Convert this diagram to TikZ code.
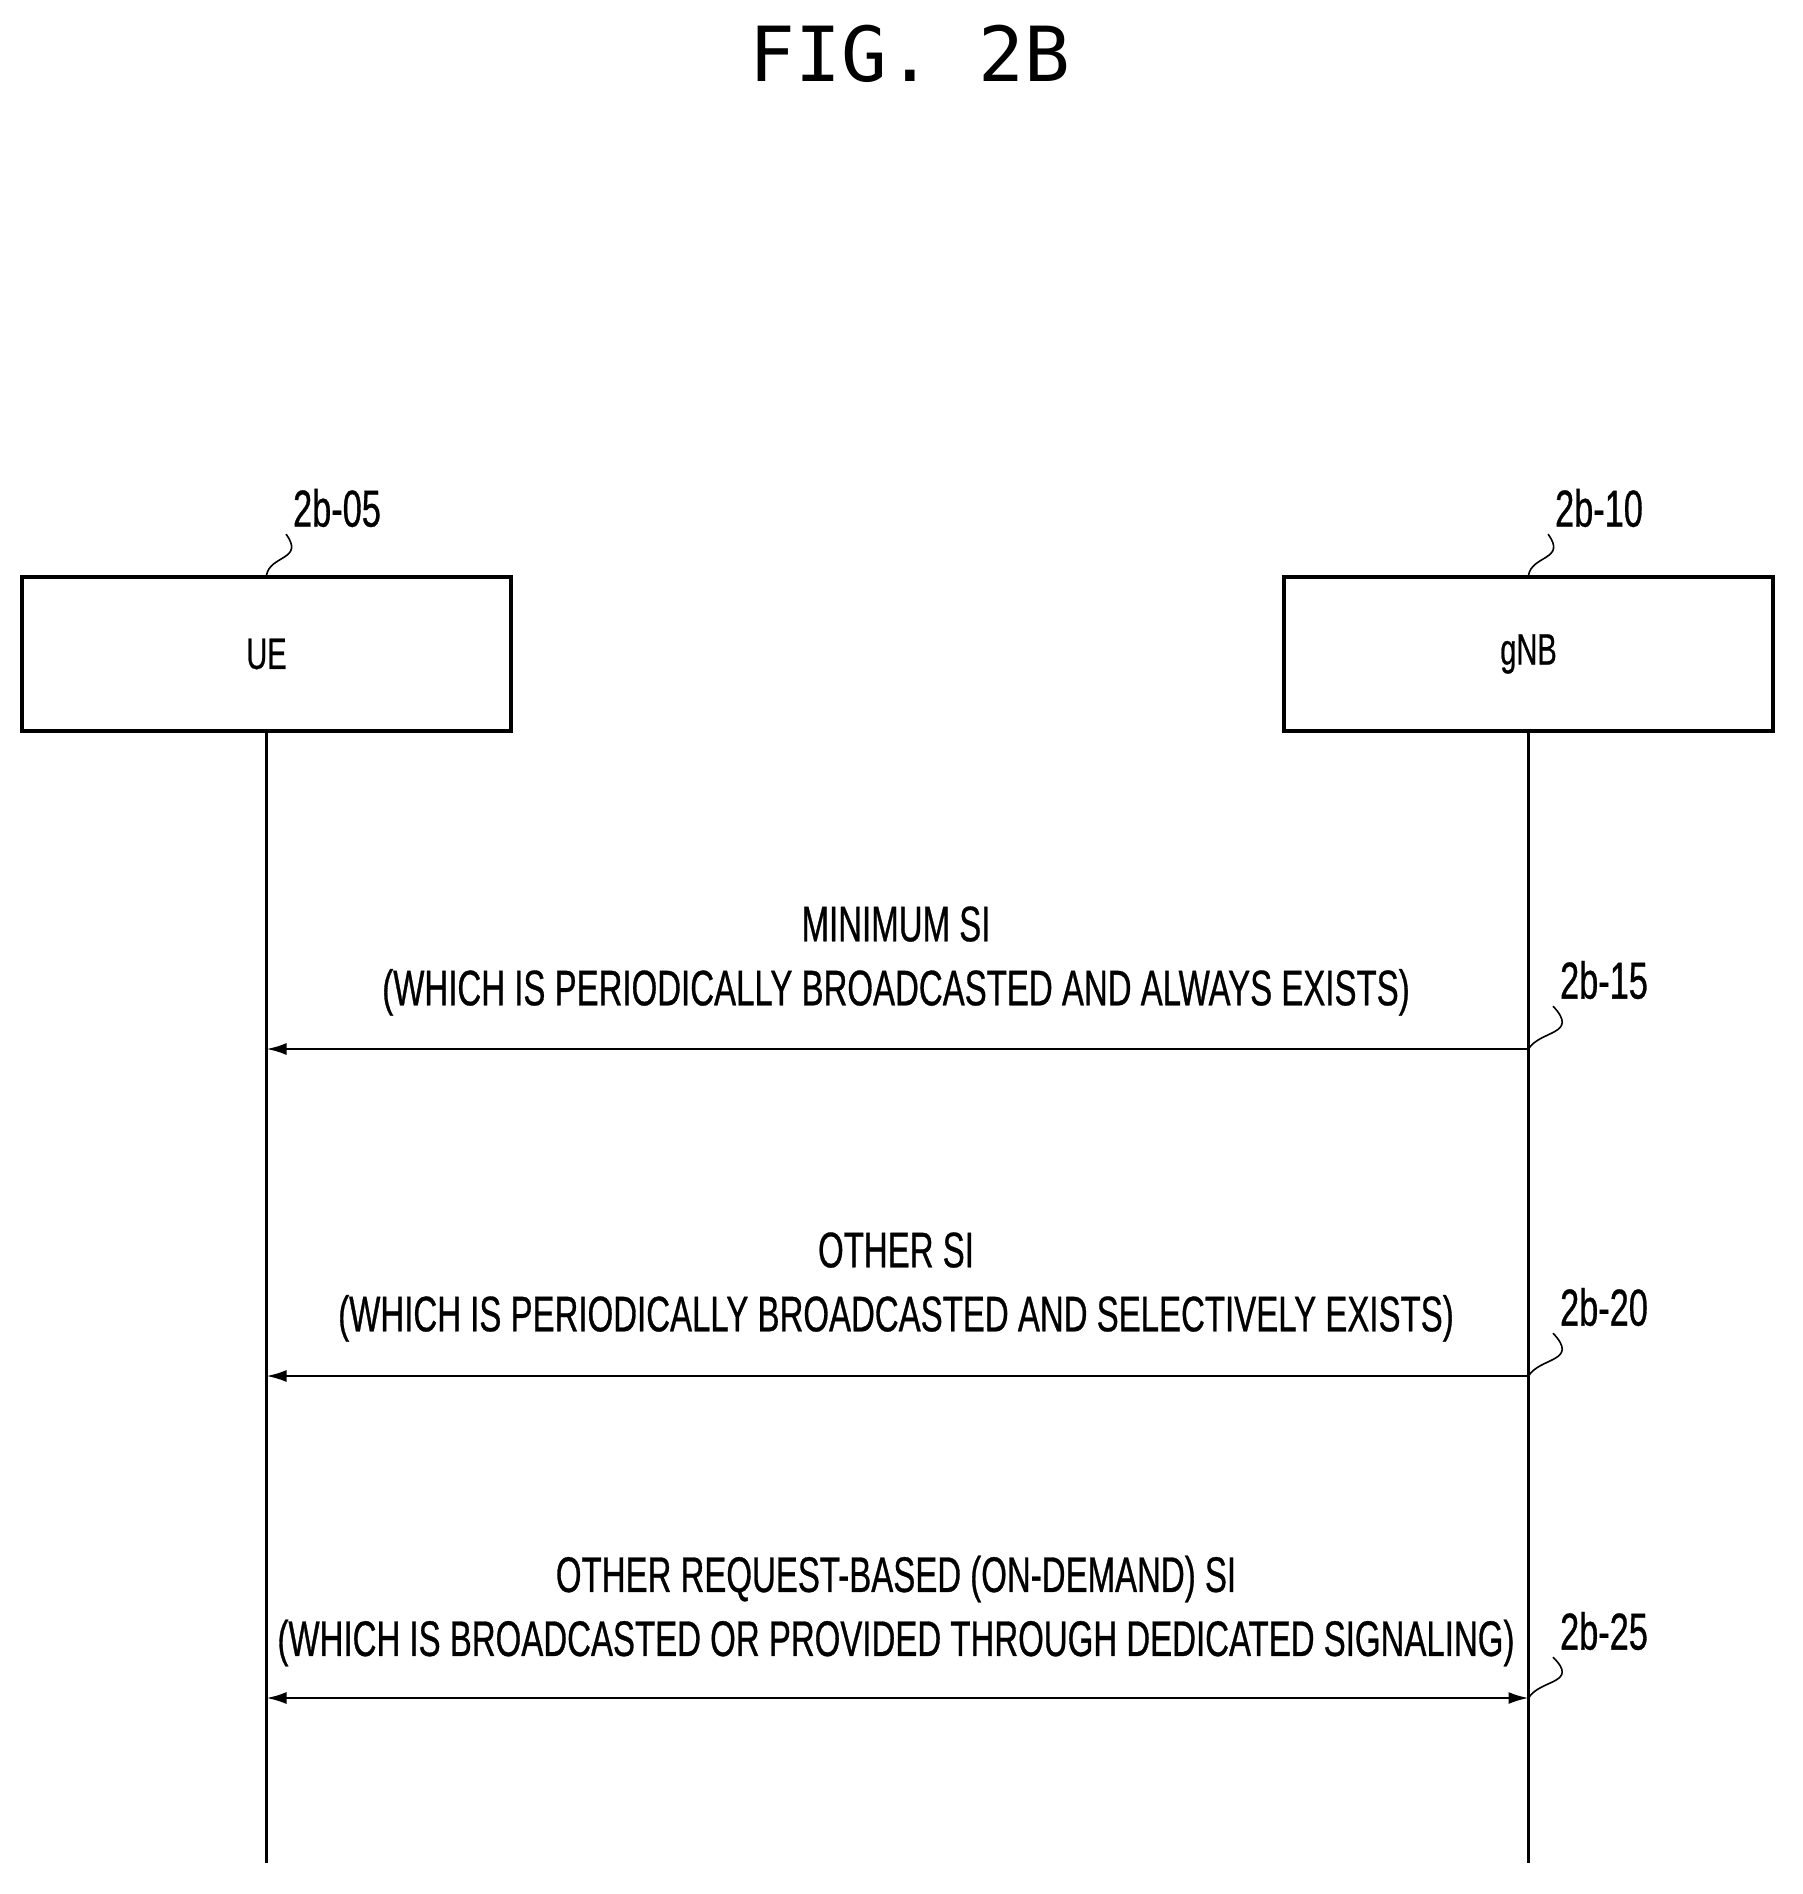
\documentclass[tikz,border=0pt]{standalone}
\usetikzlibrary{arrows.meta}
\usepackage{fontspec}
\setmainfont{Liberation Sans}
\newfontfamily\narrow[FakeStretch=0.66,FakeBold=0.6]{Liberation Sans}
\newfontfamily\titlefont{DejaVu Sans Mono}
\begin{document}
\begin{tikzpicture}[x=0.5pt,y=-0.5pt,
  box/.style={draw,line width=1.8pt,minimum width=244.5pt,minimum height=77pt,inner sep=0,font=\narrow\fontsize{22}{24}\selectfont},
  msg/.style={font=\narrow\fontsize{25}{32}\selectfont,align=center},
  ref/.style={font=\narrow\fontsize{26}{28}\selectfont},
  life/.style={line width=1.1pt},
  arr/.style={line width=1.1pt,-{Latex[length=10pt,width=6pt]}},
  lead/.style={line width=0.8pt}]
\useasboundingbox (0,0) rectangle (1803,1894);
\node[font=\titlefont\fontsize{38}{40}\selectfont] (title) at (910,54) {FIG. 2B};
\node[box] (ue) at (266.5,654) {UE};
\node[box] (gnb) at (1528.5,654) {gNB};
\node[ref] (r05) at (337,508) {2b-05};
\node[ref] (r10) at (1599,508) {2b-10};
\coordinate (ueb) at (266.5,1863);
\coordinate (gnbb) at (1528.5,1863);
\draw[life] (ue.south) -- (ueb);
\draw[life] (gnb.south) -- (gnbb);
\draw[lead] (ue.north) .. controls (270,555) and (305,560) .. (r05.south west);
\draw[lead] (gnb.north) .. controls (1532,555) and (1567,560) .. (r10.south west);
\coordinate (a1) at (1528.5,1049); \coordinate (b1) at (266.5,1049);
\coordinate (a2) at (1528.5,1376); \coordinate (b2) at (266.5,1376);
\coordinate (a3) at (1528.5,1698); \coordinate (b3) at (266.5,1698);
\draw[arr] (a1) -- (b1);
\draw[arr] (a2) -- (b2);
\draw[arr,{Latex[length=10pt,width=6pt]}-{Latex[length=10pt,width=6pt]}] (b3) -- (a3);
\node[msg] (m1) at (896,961) {MINIMUM SI\\(WHICH IS PERIODICALLY BROADCASTED AND ALWAYS EXISTS)};
\node[msg] (m2) at (896,1287) {OTHER SI\\(WHICH IS PERIODICALLY BROADCASTED AND SELECTIVELY EXISTS)};
\node[msg] (m3) at (896,1611) {OTHER REQUEST-BASED (ON-DEMAND) SI\\(WHICH IS BROADCASTED OR PROVIDED THROUGH DEDICATED SIGNALING)};
\node[ref] (r15) at (1604,980) {2b-15};
\node[ref] (r20) at (1604,1307) {2b-20};
\node[ref] (r25) at (1604,1631) {2b-25};
\draw[lead] (a1) .. controls (1540,1030) and (1580,1035) .. (r15.south west);
\draw[lead] (a2) .. controls (1540,1357) and (1580,1362) .. (r20.south west);
\draw[lead] (a3) .. controls (1540,1679) and (1580,1684) .. (r25.south west);
\end{tikzpicture}
\end{document}
